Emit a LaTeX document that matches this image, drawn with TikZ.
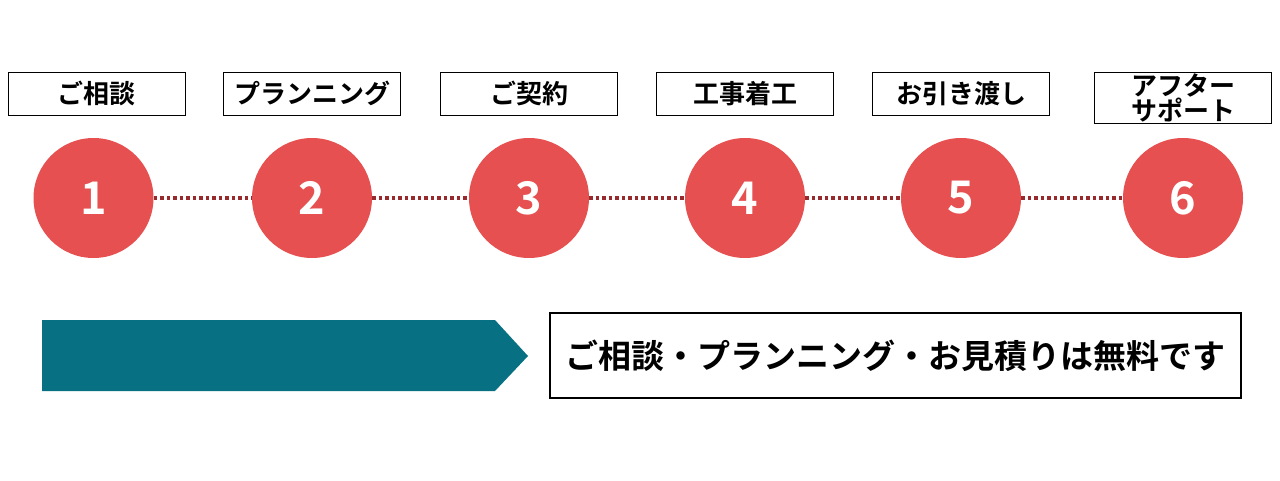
\documentclass[tikz,border=0pt]{standalone}
\usepackage{fontspec}
\newfontfamily\jpfont{Noto Sans CJK JP}[BoldFont={Noto Sans CJK JP Bold}]
\usetikzlibrary{positioning}

\definecolor{stepred}{HTML}{E65050}
\definecolor{dotred}{HTML}{962A2C}
\definecolor{arrowteal}{HTML}{077082}

\begin{document}
\begin{tikzpicture}[x=1pt,y=-1pt,font=\jpfont\bfseries,
                    node distance=22pt]
  \tikzstyle{stepnum}=[circle,fill=stepred,text=white,minimum size=120pt,
                       inner sep=0pt,font=\jpfont\bfseries\fontsize{45}{45}\selectfont]
  \tikzstyle{title}=[draw,line width=1pt,minimum width=177pt,minimum height=43pt,
                     inner sep=0pt,align=center,font=\jpfont\bfseries\fontsize{26}{22}\selectfont]
  \tikzstyle{link}=[dotred,line width=3.5pt,dash pattern=on 3.5pt off 3pt]

  \useasboundingbox (0,0) rectangle (1280,480);

  \node[stepnum] (c1) at (93.5,198) {1};
  \node[stepnum] (c2) at (312,198)  {2};
  \node[stepnum] (c3) at (529,198)  {3};
  \node[stepnum] (c4) at (745,198)  {4};
  \node[stepnum] (c5) at (961,198)  {5};
  \node[stepnum] (c6) at (1183,198) {6};

  \node[title,xshift=3pt] (t1) [above=of c1] {ご相談};
  \node[title] (t2) [above=of c2] {プランニング};
  \node[title] (t3) [above=of c3] {ご契約};
  \node[title] (t4) [above=of c4] {工事着工};
  \node[title] (t5) [above=of c5] {お引き渡し};
  \node[title,minimum height=51pt] (t6) [above=14pt of c6] {アフター\\サポート};

  \draw[link] (c1) -- (c2);
  \draw[link] (c2) -- (c3);
  \draw[link] (c3) -- (c4);
  \draw[link] (c4) -- (c5);
  \draw[link] (c5) -- (c6);

  % arrow and note
  \fill[arrowteal] (42,320) -- (495,320) -- (528,356) -- (495,391) -- (42,391) -- cycle;
  \node[draw,line width=1.5pt,minimum width=691pt,minimum height=85pt,
        font=\jpfont\bfseries\fontsize{33}{36}\selectfont] (note) at (895.5,355.5)
        {ご相談・プランニング・お見積りは無料です};
\end{tikzpicture}
\end{document}
